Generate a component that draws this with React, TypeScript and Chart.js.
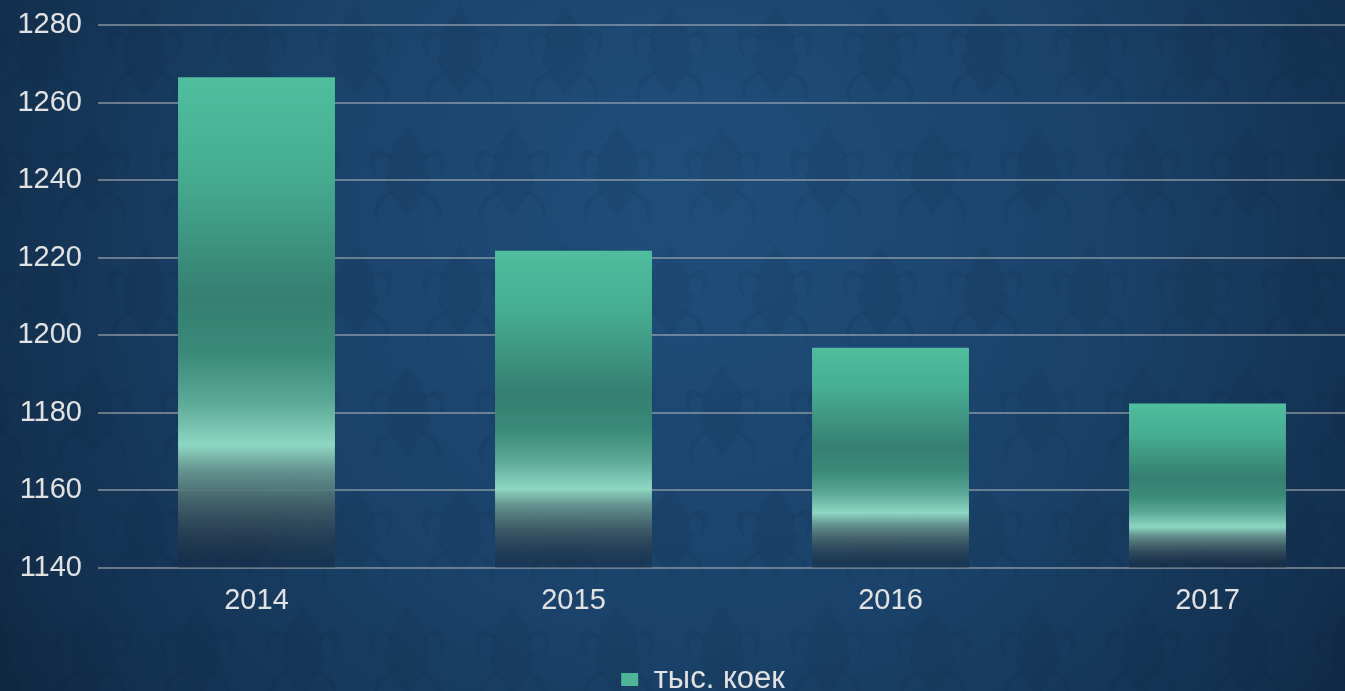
import React, { useEffect, useRef } from "react";
import { Chart, registerables } from "chart.js";

Chart.register(...registerables);

const categories = ["2014", "2015", "2016", "2017"];
const seriesLabel = "тыс. коек";
const values = [1266.5, 1221.8, 1196.8, 1182.4];
const yMin = 1140;
const yMax = 1280;
const yStep = 20;

const CANVAS_W = 1380;
const CANVAS_H = 705;

function drawMotif(ctx: CanvasRenderingContext2D, cx: number, cy: number) {
  ctx.beginPath();
  ctx.moveTo(cx, cy - 46);
  ctx.bezierCurveTo(cx + 8, cy - 28, cx + 26, cy - 18, cx + 18, cy);
  ctx.bezierCurveTo(cx + 30, cy + 6, cx + 16, cy + 26, cx, cy + 46);
  ctx.bezierCurveTo(cx - 16, cy + 26, cx - 30, cy + 6, cx - 18, cy);
  ctx.bezierCurveTo(cx - 26, cy - 18, cx - 8, cy - 28, cx, cy - 46);
  ctx.closePath();
  ctx.fill();
  for (const s of [-1, 1]) {
    ctx.beginPath();
    ctx.moveTo(cx + s * 12, cy - 8);
    ctx.bezierCurveTo(cx + s * 36, cy - 36, cx + s * 46, cy - 8, cx + s * 30, cy + 8);
    ctx.bezierCurveTo(cx + s * 38, cy - 12, cx + s * 26, cy - 20, cx + s * 12, cy - 8);
    ctx.fill();
    ctx.beginPath();
    ctx.moveTo(cx + s * 10, cy + 20);
    ctx.bezierCurveTo(cx + s * 30, cy + 22, cx + s * 40, cy + 40, cx + s * 30, cy + 52);
    ctx.bezierCurveTo(cx + s * 32, cy + 36, cx + s * 22, cy + 28, cx + s * 10, cy + 20);
    ctx.fill();
  }
}

const backgroundPlugin = {
  id: "bgPlugin",
  beforeDraw(chart: any) {
    const ctx: CanvasRenderingContext2D = chart.ctx;
    const w = chart.width;
    const h = chart.height;
    ctx.save();
    const g = ctx.createRadialGradient(690, 200, 40, 690, 260, 880);
    g.addColorStop(0, "#1f4d7a");
    g.addColorStop(0.45, "#1a426a");
    g.addColorStop(0.8, "#13304f");
    g.addColorStop(1, "#0d2238");
    ctx.fillStyle = g;
    ctx.fillRect(0, 0, w, h);
    ctx.fillStyle = "rgba(8, 22, 40, 0.075)";
    const tw = 105;
    const th = 120;
    for (let row = -1; row < h / th + 1; row++) {
      for (let col = -1; col < w / tw + 1; col++) {
        const off = row % 2 === 0 ? 0 : tw / 2;
        drawMotif(ctx, col * tw + off + 40, row * th + 50);
      }
    }
    ctx.restore();
  },
};

// shifts the bottom legend slightly right, as in the original slide layout
const legendShiftPlugin = {
  id: "legendShift",
  afterLayout(chart: any) {
    if (chart.legend) chart.legend.left += 40;
  },
};

function barGradient(c: any) {
  const chart = c.chart;
  const area = chart.chartArea;
  if (!area || c.type !== "data" || !c.parsed) return "#4fbf9e";
  const y = chart.scales.y;
  const top = y.getPixelForValue(c.parsed.y);
  const bottom = area.bottom;
  const g = chart.ctx.createLinearGradient(0, top, 0, bottom);
  g.addColorStop(0, "#4fbf9e");
  g.addColorStop(0.2, "#46ac90");
  g.addColorStop(0.45, "#357f70");
  g.addColorStop(0.56, "#3a8a78");
  g.addColorStop(0.66, "#5aa896");
  g.addColorStop(0.75, "#8ed7c2");
  g.addColorStop(0.8, "rgba(106, 154, 147, 0.95)");
  g.addColorStop(0.87, "rgba(72, 100, 106, 0.85)");
  g.addColorStop(0.93, "rgba(46, 66, 82, 0.7)");
  g.addColorStop(1, "rgba(18, 34, 50, 0.3)");
  return g;
}

const FONT = "'Liberation Sans', Arial, sans-serif";

export default function App() {
  const ref = useRef<HTMLCanvasElement | null>(null);
  useEffect(() => {
    if (!ref.current) return;
    const chart = new Chart(ref.current, {
      type: "bar",
      data: {
        labels: categories,
        datasets: [
          {
            label: seriesLabel,
            data: values,
            backgroundColor: barGradient as any,
            borderWidth: 0,
            categoryPercentage: 1,
            barPercentage: 0.495,
          },
        ],
      },
      options: {
        responsive: false,
        animation: false,
        layout: { padding: { top: 25, right: 14, left: 0, bottom: 0 } },
        scales: {
          x: {
            grid: { display: false },
            border: { display: false },
            ticks: {
              color: "#e2e2e2",
              font: { family: FONT, size: 29 },
              padding: 8,
            },
            afterFit: (s: any) => {
              s.height = 88;
            },
          },
          y: {
            min: yMin,
            max: yMax,
            z: 1,
            grid: {
              color: "rgba(175, 178, 182, 0.55)",
              lineWidth: 2,
              drawTicks: false,
            },
            border: { display: false },
            ticks: {
              stepSize: yStep,
              color: "#e2e2e2",
              font: { family: FONT, size: 29 },
              padding: 16,
              callback: (v: any) => String(v),
            },
            afterFit: (s: any) => {
              s.width = 98;
              s.paddingTop = 8;
              s.paddingBottom = 8;
            },
          },
        },
        plugins: {
          tooltip: { enabled: false },
          legend: {
            position: "bottom",
            labels: {
              color: "#e2e2e2",
              font: { family: FONT, size: 31 },
              boxWidth: 17,
              boxHeight: 13,
              padding: 8,
              generateLabels: () => [
                {
                  text: seriesLabel,
                  fillStyle: "#4fb597",
                  strokeStyle: "rgba(0,0,0,0)",
                  lineWidth: 0,
                  fontColor: "#e2e2e2",
                  hidden: false,
                  datasetIndex: 0,
                } as any,
              ],
            },
          },
        },
      },
      plugins: [backgroundPlugin, legendShiftPlugin],
    });
    return () => chart.destroy();
  }, []);
  return (
    <div
      style={{
        position: "fixed",
        left: 0,
        top: 0,
        width: 1345,
        height: 691,
        overflow: "hidden",
        background: "#163a5f",
      }}
    >
      <canvas ref={ref} width={CANVAS_W} height={CANVAS_H} style={{ display: "block" }} />
    </div>
  );
}
